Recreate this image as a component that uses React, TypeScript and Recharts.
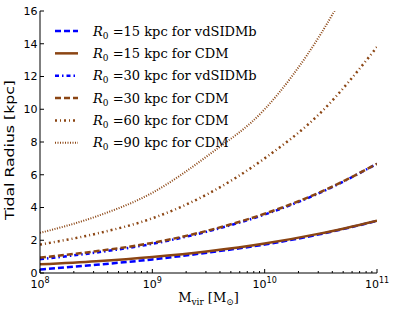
import React from "react";
import { LineChart, Line, XAxis, YAxis, Legend, Label } from "recharts";

// halo virial masses (M_sun), half-decade steps
const masses = [1e8, 3.16e8, 1e9, 3.16e9, 1e10, 3.16e10, 1e11];

// tidal radius in kpc
const r15Sidm = [0.21, 0.5, 0.83, 1.25, 1.74, 2.38, 3.18];
const r15Cdm = [0.53, 0.72, 0.98, 1.33, 1.8, 2.42, 3.2];
const r30Sidm = [0.84, 1.25, 1.78, 2.55, 3.57, 4.92, 6.67];
const r30Cdm = [0.94, 1.33, 1.84, 2.6, 3.62, 4.95, 6.67];
const r60Cdm = [1.74, 2.4, 3.34, 4.85, 7.0, 9.8, 13.8];
const r90Cdm = [2.45, 3.45, 4.9, 7.2, 10.0, 14.6, 21.0];

const majorTicks = [1e8, 1e9, 1e10, 1e11];
const majorLabels = ["8", "9", "10", "11"];
const yTicks = [0, 2, 4, 6, 8, 10, 12, 14, 16];

const BLUE = "#0000ff";
const BROWN = "#8b4513";

const minorTicks: number[] = [];
for (let d = 8; d < 11; d++) {
  for (let k = 2; k <= 9; k++) minorTicks.push(k * Math.pow(10, d));
}
const xTicks = [...majorTicks, ...minorTicks].sort((a, b) => a - b);

const data = masses.map((m, i) => ({
  m,
  s15: r15Sidm[i],
  c15: r15Cdm[i],
  s30: r30Sidm[i],
  c30: r30Cdm[i],
  c60: r60Cdm[i],
  c90: r90Cdm[i],
}));

const series = [
  { key: "s15", r0: "15", model: "vdSIDMb", color: BLUE, dash: "6 3", width: 2.5 },
  { key: "c15", r0: "15", model: "CDM", color: BROWN, dash: undefined, width: 2.5 },
  { key: "s30", r0: "30", model: "vdSIDMb", color: BLUE, dash: "4 3 1.5 3", width: 2.5 },
  { key: "c30", r0: "30", model: "CDM", color: BROWN, dash: "6 3", width: 2.5 },
  { key: "c60", r0: "60", model: "CDM", color: BROWN, dash: "2 3 1 3", width: 2.5 },
  { key: "c90", r0: "90", model: "CDM", color: BROWN, dash: "1 1.5", width: 2 },
];

const SANS = "DejaVu Sans";
const SERIF = "DejaVu Serif";

const majorIndex = (v: number) =>
  majorTicks.findIndex((t) => Math.abs(t - v) / t < 1e-6);

function BottomTick({ x, y, payload }: any) {
  const idx = majorIndex(payload.value);
  const major = idx >= 0;
  return (
    <g>
      <line x1={x} x2={x} y1={y} y2={y - (major ? 4 : 2)} stroke="#000" />
      {major && (
        <text x={x} y={y + 14.5} textAnchor="middle" fontFamily={SANS} fontSize={11} fill="#000">
          10
          <tspan dy={-5} fontSize={8}>
            {majorLabels[idx]}
          </tspan>
        </text>
      )}
    </g>
  );
}

function TopTick({ x, y, payload }: any) {
  const major = majorIndex(payload.value) >= 0;
  return <line x1={x} x2={x} y1={y} y2={y + (major ? 4 : 2)} stroke="#000" />;
}

function LeftTick({ x, y, payload }: any) {
  return (
    <g>
      <line x1={x} x2={x + 4} y1={y} y2={y} stroke="#000" />
      <text x={x - 2.5} y={y} dy="0.36em" textAnchor="end" fontFamily={SANS} fontSize={11} fill="#000">
        {payload.value}
      </text>
    </g>
  );
}

function RightTick({ x, y }: any) {
  return <line x1={x} x2={x - 4} y1={y} y2={y} stroke="#000" />;
}

function LegendContent() {
  return (
    <svg width={230} height={136}>
      {series.map((s, i) => {
        const cy = 11 + i * 22.35;
        return (
          <g key={s.key}>
            <line
              x1={5}
              x2={28}
              y1={cy}
              y2={cy}
              stroke={s.color}
              strokeWidth={s.width}
              strokeDasharray={s.dash}
            />
            <text x={43} y={cy + 4.7} fontFamily={SERIF} fontSize={13} fill="#000">
              <tspan fontStyle="italic">R</tspan>
              <tspan dy={3} fontSize={9}>0</tspan>
              <tspan dy={-3}>{` =${s.r0} kpc for ${s.model}`}</tspan>
            </text>
          </g>
        );
      })}
    </svg>
  );
}

function XTitle({ viewBox }: any) {
  const cx = viewBox.x + viewBox.width / 2;
  const by = viewBox.y + 28.7;
  return (
    <text x={cx} y={by} textAnchor="middle" fontFamily={SERIF} fontSize={13} fill="#000">
      M<tspan dy={3} fontSize={9}>vir</tspan>
      <tspan dy={-3}> [M</tspan>
      <tspan dy={3} fontSize={9}>⊙</tspan>
      <tspan dy={-3}>]</tspan>
    </text>
  );
}

function YTitle({ viewBox }: any) {
  const bx = viewBox.x + 14;
  const cy = viewBox.y + viewBox.height / 2 + 8;
  return (
    <text
      x={bx}
      y={cy}
      transform={`rotate(-90 ${bx} ${cy})`}
      textAnchor="middle"
      fontFamily={SANS}
      fontSize={13}
      textLength={140}
      lengthAdjust="spacingAndGlyphs"
      fill="#000"
    >
      Tidal Radius [kpc]
    </text>
  );
}

export default function App() {
  return (
    <div style={{ position: "absolute", left: 0, top: 0, background: "#fff" }}>
      <LineChart width={398} height={315} data={data} margin={{ top: 11, right: 21, bottom: 0, left: 0 }}>
        <XAxis
          dataKey="m"
          type="number"
          scale="log"
          domain={[1e8, 1e11]}
          allowDataOverflow
          ticks={xTicks}
          interval={0}
          height={42}
          tickSize={0}
          tickMargin={0}
          tickLine={false}
          axisLine={{ stroke: "#000" }}
          tick={(p: any) => <BottomTick {...p} />}
        >
          <Label content={(p: any) => <XTitle {...p} />} />
        </XAxis>
        <XAxis
          xAxisId="top"
          orientation="top"
          dataKey="m"
          type="number"
          scale="log"
          domain={[1e8, 1e11]}
          allowDataOverflow
          ticks={xTicks}
          interval={0}
          height={0}
          tickSize={0}
          tickMargin={0}
          tickLine={false}
          axisLine={{ stroke: "#000" }}
          tick={(p: any) => <TopTick {...p} />}
        />
        <YAxis
          type="number"
          domain={[0, 16]}
          allowDataOverflow
          ticks={yTicks}
          interval={0}
          width={40}
          tickSize={0}
          tickMargin={0}
          tickLine={false}
          axisLine={{ stroke: "#000" }}
          tick={(p: any) => <LeftTick {...p} />}
        >
          <Label content={(p: any) => <YTitle {...p} />} />
        </YAxis>
        <YAxis
          yAxisId="right"
          orientation="right"
          type="number"
          domain={[0, 16]}
          allowDataOverflow
          ticks={yTicks}
          interval={0}
          width={0}
          tickSize={0}
          tickMargin={0}
          tickLine={false}
          axisLine={{ stroke: "#000" }}
          tick={(p: any) => <RightTick {...p} />}
        />
        <Legend
          layout="vertical"
          align="center"
          verticalAlign="middle"
          wrapperStyle={{ position: "absolute", top: 20, left: 50, width: 230, height: 136 }}
          content={() => <LegendContent />}
        />
        {series.map((s) => (
          <Line
            key={s.key}
            dataKey={s.key}
            type="monotone"
            stroke={s.color}
            strokeWidth={s.width}
            strokeDasharray={s.dash}
            dot={false}
            activeDot={false}
            isAnimationActive={false}
          />
        ))}
      </LineChart>
    </div>
  );
}
